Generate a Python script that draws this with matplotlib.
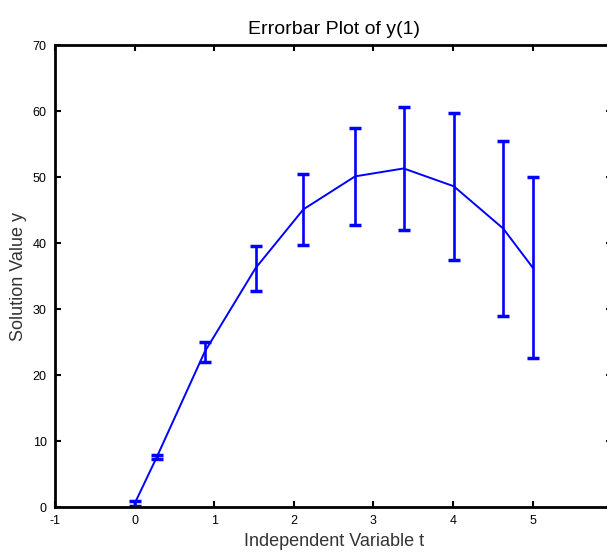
import numpy as np
import matplotlib
matplotlib.use("Agg")
import matplotlib.pyplot as plt

plt.rcParams['font.family'] = ['Liberation Sans', 'DejaVu Sans']
plt.rcParams['axes.unicode_minus'] = False

# Solver time steps, solution values and error half-widths
t = [0.0, 0.28, 0.88, 1.52, 2.12, 2.77, 3.38, 4.01, 4.63, 5.0]
y = [0.5, 7.6, 23.5, 36.2, 45.1, 50.1, 51.3, 48.6, 42.2, 36.3]
err = [0.4, 0.3, 1.5, 3.4, 5.4, 7.3, 9.3, 11.1, 13.2, 13.75]

xticks = [-1, 0, 1, 2, 3, 4, 5]
yticks = [0, 10, 20, 30, 40, 50, 60, 70]

fig = plt.figure(figsize=(6.07, 5.6), dpi=100)
ax = fig.add_axes([0.0906, 0.0946, 0.918, 0.825])

ax.errorbar(t, y, yerr=err, color='#0000ff', linewidth=1.4, elinewidth=1.9,
            capsize=4.5, capthick=2.5)

ax.set_xlim(-1, 6)
ax.set_ylim(0, 70)
ax.set_xticks(xticks)
ax.set_yticks(yticks)
ax.tick_params(direction='in', top=True, right=True, length=4, width=1.5,
               labelsize=9, pad=6)
for s in ax.spines.values():
    s.set_linewidth(2)

ax.set_title("Errorbar Plot of y(1)", fontsize=14, pad=8)
ax.set_xlabel("Independent Variable t", fontsize=13, color='#333333')
ax.set_ylabel("Solution Value y", fontsize=13, color='#333333')

fig.savefig("out.png", dpi=100)
